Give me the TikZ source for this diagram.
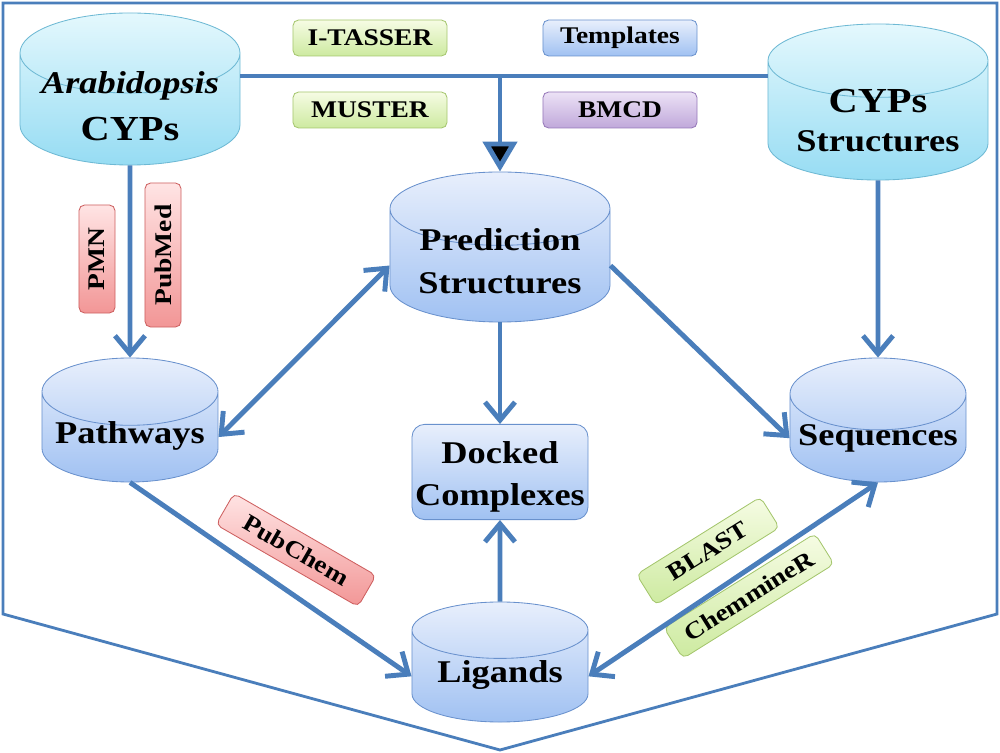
\documentclass[tikz,border=0pt]{standalone}
\usepackage{fontspec}
\setmainfont[FakeStretch=1.15]{Liberation Serif}
\usetikzlibrary{arrows.meta,positioning,shapes.geometric,calc}
\definecolor{flow}{RGB}{74,126,187}
\definecolor{cyanlo}{RGB}{150,220,243}
\definecolor{cyanhi}{RGB}{228,248,253}
\definecolor{cyanrim}{RGB}{110,185,212}
\definecolor{bluelo}{RGB}{160,193,242}
\definecolor{bluehi}{RGB}{232,239,252}
\definecolor{bluerim}{RGB}{105,145,205}
\definecolor{greenlo}{RGB}{205,234,160}
\definecolor{greenhi}{RGB}{246,252,228}
\definecolor{greenrim}{RGB}{165,198,110}
\definecolor{redlo}{RGB}{242,150,150}
\definecolor{redhi}{RGB}{255,228,228}
\definecolor{redrim}{RGB}{205,95,95}
\definecolor{violetlo}{RGB}{192,168,218}
\definecolor{violethi}{RGB}{236,226,246}
\definecolor{violetrim}{RGB}{150,120,185}
% text of a database: no height of its own, so the shape keeps its size
\newcommand\dbtext[2][3.5pt]{\smash{\raisebox{-#1}{\begin{tabular}{@{}c@{}}#2\end{tabular}}}}
\tikzset{database/.style={
  % The shape:
  cylinder, shape border rotate=90, aspect=0.45, anchor=shape center,
  inner sep=0pt,
  % The border:
  draw=bluerim, semithick,
  % The filling:
  top color=bluehi, bottom color=bluelo,
  % Font:
  font=\fontsize{22.5}{30.5}\selectfont\bfseries,
  }
}
\tikzset{source/.style={
  database,
  draw=cyanrim, top color=cyanhi, bottom color=cyanlo,
  }
}
\tikzset{tool/.style={
  % The shape:
  rectangle, rounded corners=4pt,
  minimum height=0.9cm, inner sep=2pt,
  % The rest
  semithick, font=\fontsize{17}{19}\selectfont\bfseries,
  }
}
\tikzset{greentool/.style={tool,draw=greenrim,top color=greenhi,bottom color=greenlo}}
\tikzset{redtool/.style={tool,draw=redrim,top color=redhi,bottom color=redlo}}
\tikzset{bluetool/.style={tool,draw=bluerim,top color=bluehi,bottom color=bluelo}}
\tikzset{violettool/.style={tool,draw=violetrim,top color=violethi,bottom color=violetlo}}
\begin{document}
\begin{tikzpicture}[x=0.025cm, y=-0.025cm,
    >={Straight Barb[length=0.45cm,width=0.75cm,line width=3.5pt]},
    link/.style={draw=flow, line width=3.5pt},
    frame/.style={draw=flow, line width=2pt, line join=miter}]
  \useasboundingbox (0,0) rectangle (1000,753);
  \draw[frame] (3,3) -- (997,3) -- (997,614) -- (500,750) -- (3,614) -- cycle;

  % Databases:
  \node (arab) [source, minimum width=5.5cm, minimum height=3.8cm] at (130,89)
    {\dbtext[4.6pt]{\textit{Arabidopsis}\\[3.5pt]{\fontsize{25}{30}\selectfont CYPs}}};
  \node (cyps) [source, minimum width=5.5cm, minimum height=3.9cm] at (878,102)
    {\dbtext[7pt]{{\fontsize{25}{30}\selectfont CYPs}\\[-3pt]Structures}};
  \node (pred) [database, minimum width=5.5cm, minimum height=3.75cm] at (500,247)
    {\dbtext{Prediction\\Structures}};
  \node (path) [database, minimum width=4.4cm, minimum height=3.1cm] at (130,420)
    {\dbtext[4pt]{Pathways}};
  \node (seq)  [database, minimum width=4.4cm, minimum height=3.1cm] at (878,420)
    {\dbtext[4pt]{Sequences}};
  \node (lig)  [database, minimum width=4.4cm, minimum height=3cm] at (500,662)
    {\dbtext{Ligands}};
  \node (dock) [database, rectangle, anchor=center, rounded corners=9pt, minimum width=4.4cm,
    minimum height=2.38cm] at (500,472) {\dbtext[8pt]{Docked\\Complexes}};

  % Tools:
  \node (itasser)   [greentool,  minimum width=3.85cm] at (370,38)  {I-TASSER};
  \node (muster)    [greentool,  minimum width=3.85cm] at (370,110) {MUSTER};
  \node (templates) [bluetool,   minimum width=3.85cm] at (620,38)  {Templates};
  \node (bmcd)      [violettool, minimum width=3.85cm] at (620,110) {BMCD};
  \node (pmn)       [redtool, minimum width=2.7cm, rotate=90] at (97,259)  {PMN};
  \node (pubmed)    [redtool, minimum width=3.6cm, rotate=90] at (163,255) {PubMed};
  \node (pubchem)   [redtool, minimum width=4.1cm, rotate=-30] at (296,550) {PubChem};
  \node (blast)     [greentool, minimum width=3.65cm, rotate=32] at (708,551) {BLAST};
  \node (chemminer) [greentool, minimum width=4.45cm, rotate=32] at (749,596) {ChemmineR};

  % Links:
  \coordinate (hub) at (500,76);
  \path[link] (arab.east |- hub) -- (hub -| cyps.west);
  \path[link] (hub) edge [-{Triangle[length=0.75cm,width=0.85cm]}] (pred.north);
  \path[link] (arab.south) edge [->] (path.north)
              (cyps.south) edge [->] (seq.north)
              (pred.west)  edge [<->] (path.east)
              (pred.east)  edge [->] (seq.west)
              (pred.south) edge [->] (dock.north)
              (lig.north)  edge [->] (dock.south)
              (path.south) edge [->] (lig.west)
              (lig.east)   edge [<->] (seq.south);
\end{tikzpicture}
\end{document}
